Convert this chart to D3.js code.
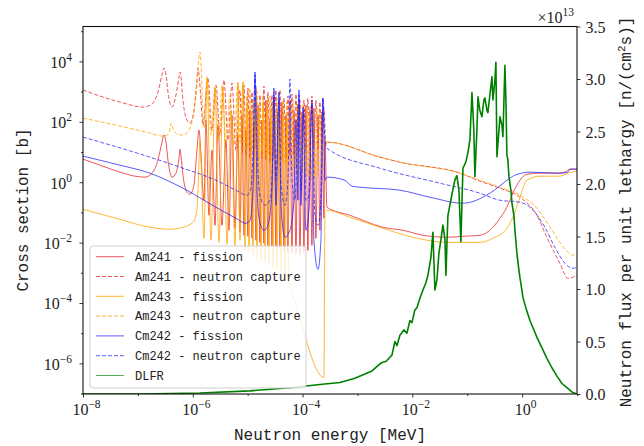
<!DOCTYPE html>
<html>
<head>
<meta charset="utf-8">
<script src="https://cdn.jsdelivr.net/npm/d3@7"></script>
<style>
  body { margin: 0; background: #fff; }
  svg { display: block; }
</style>
</head>
<body>
<svg id="chart" width="644" height="446"></svg>
<script>
// Cross sections [energy MeV, sigma barn]
const am241Fission = [
  [1e-8,5.8],[2.04e-8,3.66],[4.72e-8,2.15],[8.85e-8,1.58],[1.35e-7,1.47],[1.81e-7,1.99],
  [2.32e-7,5.37],[2.75e-7,21.2],[2.98e-7,36.2],[3.25e-7,21.2],[3.53e-7,5.37],[4.18e-7,1.47],
  [4.94e-7,1.99],[5.61e-7,6.25],[5.85e-7,12.4],[6.10e-7,7.28],[6.62e-7,1.71],[7.83e-7,0.466],
  [8.89e-7,0.40],[1.05e-6,0.795],[1.19e-6,11.5],[1.30e-6,53.1],[1.41e-6,7.87],[1.60e-6,0.253],
  [1.74e-6,114],[1.97e-6,0.0804],[2.24e-6,11.5],[2.54e-6,0.0375],[2.88e-6,77.8],[3.40e-6,0.0375],
  [4.03e-6,24.7],[4.56e-6,0.0256],[5.18e-6,167],[5.87e-6,0.0298],[6.65e-6,36.2],[7.24e-6,0.022],
  [7.87e-6,167],[8.57e-6,0.0175],[9.31e-6,53.1],[1.01e-5,0.0162],[1.10e-5,244],[1.20e-5,0.0139],
  [1.30e-5,77.8],[1.42e-5,0.0119],[1.54e-5,358],[1.67e-5,0.0102],[1.82e-5,114],[1.98e-5,0.00948],
  [2.15e-5,525],[2.34e-5,0.00813],[2.55e-5,133],[2.77e-5,0.00754],[3.01e-5,611],[3.27e-5,0.00698],
  [3.56e-5,210],[3.87e-5,0.00647],[4.22e-5,450],[4.58e-5,0.00555],[4.99e-5,167],[5.42e-5,0.00477],
  [5.89e-5,525],[6.41e-5,0.00442],[6.97e-5,244],[7.59e-5,0.00409],[8.24e-5,386],[8.97e-5,0.00379],
  [9.75e-5,210],[1.06e-4,0.00477],[1.15e-4,358],[1.25e-4,0.00555],[1.36e-4,244],[1.48e-4,0.00813],
  [1.61e-4,285],[1.75e-4,0.0139],[1.91e-4,167],[2.07e-4,0.0256],[2.25e-4,210],[2.45e-4,0.064],
  [2.56e-4,24.7],[2.78e-4,0.148],[7.29e-4,0.0804],[2.91e-3,0.0322],
  [6.75e-3,0.0256],[1.56e-2,0.0175],[4.27e-2,0.015],[9.08e-2,0.0163],[0.17,0.0175],[0.294,0.0322],
  [0.394,0.064],[0.528,0.148],[0.679,0.432],[0.912,1.16],[1.22,1.84],[2.11,1.99],[4.88,1.99],
  [6.02,2.15],[7.43,2.7],[10,2.7]
];
const am241Capture = [
  [1e-8,1130],[2.04e-8,712],[4.72e-8,450],[1.24e-7,307],[1.81e-7,386],[2.32e-7,966],[2.75e-7,3540],
  [2.98e-7,6040],[3.25e-7,3540],[3.53e-7,966],[4.18e-7,307],[4.94e-7,769],[5.61e-7,3040],[5.85e-7,4450],
  [6.10e-7,3040],[6.62e-7,525],[7.83e-7,114],[8.89e-7,90.6],[1.05e-6,244],[1.19e-6,2420],[1.24e-6,6040],
  [1.30e-6,3540],[1.41e-6,525],[1.53e-6,77.8],[1.89e-6,2810],[2.24e-6,53.1],[2.65e-6,1650],[3.13e-6,36.2],
  [3.70e-6,2420],[4.38e-6,24.7],[5.18e-6,1920],[6.12e-6,11.5],[7.24e-6,1130],[7.87e-6,9.89],[8.57e-6,1650],
  [9.31e-6,7.87],[1.01e-5,1310],[1.10e-5,6.25],[1.20e-5,966],[1.30e-5,6.75],[1.42e-5,1530],[1.54e-5,5.37],
  [1.67e-5,769],[1.82e-5,6.25],[1.98e-5,1530],[2.15e-5,5.37],[2.34e-5,966],[2.55e-5,4.6],[2.77e-5,769],
  [3.01e-5,6.25],[3.27e-5,1130],[3.56e-5,4.6],[3.87e-5,1130],[4.22e-5,5.37],[4.58e-5,611],[4.99e-5,6.25],
  [5.42e-5,712],[5.89e-5,7.87],[6.41e-5,830],[6.97e-5,7.87],[7.59e-5,830],[8.24e-5,9.89],[8.97e-5,525],
  [9.75e-5,9.89],[1.06e-4,525],[1.15e-4,11.5],[1.25e-4,611],[1.36e-4,11.5],[1.48e-4,712],[1.61e-4,13.4],
  [1.75e-4,525],[1.91e-4,13.4],[2.07e-4,450],[2.25e-4,15.6],[2.45e-4,285],[2.67e-4,18.2],[2.78e-4,21.2],
  [2.57e-3,6.75],[5.94e-3,4.6],[7.36e-2,1.99],[0.17,1.08],[0.394,0.632],[0.912,0.318],[1.86,0.0804],
  [2.83,0.015],[4.88,0.00206],[6.83,0.000655],[10,0.000822]
];
const am243Fission = [
  [1e-8,0.127],[3.99e-8,0.064],[1.66e-7,0.0322],[3.85e-7,0.0276],[6.62e-7,0.0322],[1.01e-6,0.0471],
  [1.19e-6,0.118],[1.30e-6,5.37],[1.35e-6,24.7],[1.41e-6,5.37],[1.60e-6,0.0139],[1.82e-6,2810],
  [2.15e-6,0.0119],[2.54e-6,1310],[3.00e-6,0.0102],[3.55e-6,1310],[4.20e-6,0.00878],[4.97e-6,244],
  [5.87e-6,0.00813],[6.65e-6,1920],[7.24e-6,0.0119],[8.20e-6,2070],[8.93e-6,0.00555],[9.70e-6,358],
  [1.06e-5,0.00477],[1.15e-5,244],[1.25e-5,0.00379],[1.36e-5,525],[1.48e-5,0.00302],[1.61e-5,285],
  [1.75e-5,0.00259],[1.90e-5,386],[2.07e-5,0.00222],[2.25e-5,244],[2.44e-5,0.00177],[2.65e-5,285],
  [2.89e-5,0.00141],[3.14e-5,210],[3.42e-5,0.00121],[3.72e-5,244],[4.05e-5,0.00104],[4.40e-5,167],
  [4.78e-5,0.000655],[5.20e-5,133],[5.65e-5,0.000384],[6.15e-5,0.000262],[2.45e-4,3.4e-7],
  [2.56e-4,0.101],[2.78e-4,0.118],[7.29e-4,0.069],[2.91e-3,0.0298],
  [1.03e-2,0.015],[4.27e-2,0.0102],[0.17,0.0102],[0.294,0.0139],[0.528,0.0298],[0.679,0.069],
  [0.912,0.318],[1.22,1.16],[2.11,1.58],[4.88,1.58],[6.83,1.99],[10,2.32]
];
const am243Capture = [
  [1e-8,133],[4.72e-8,71.9],[1.66e-7,42.2],[2.75e-7,33.6],[3.39e-7,36.2],[3.85e-7,61.8],[4.01e-7,90.6],
  [4.35e-7,61.8],[5.15e-7,39.1],[6.62e-7,36.2],[8.89e-7,61.8],[1.14e-6,659],[1.35e-6,20500],[1.60e-6,61.8],
  [1.82e-6,3280],[2.15e-6,36.2],[2.54e-6,1530],[3.00e-6,24.7],[3.40e-6,1650],[4.03e-6,21.2],[4.76e-6,769],
  [5.62e-6,16.9],[6.65e-6,2070],[7.24e-6,21.2],[8.20e-6,2070],[8.93e-6,11.5],[9.70e-6,769],[1.01e-5,13.4],
  [1.10e-5,1310],[1.20e-5,9.89],[1.25e-5,525],[1.36e-5,11.5],[1.48e-5,966],[1.54e-5,7.87],[1.67e-5,611],
  [1.82e-5,9.89],[1.90e-5,830],[2.07e-5,6.25],[2.25e-5,525],[2.34e-5,7.87],[2.55e-5,712],[2.77e-5,5.37],
  [2.89e-5,450],[3.14e-5,6.25],[3.42e-5,611],[3.56e-5,4.6],[3.87e-5,386],[4.22e-5,5.37],[4.40e-5,525],
  [4.78e-5,3.66],[5.20e-5,450],[5.42e-5,4.6],[5.89e-5,332],[6.41e-5,2.5],[6.68e-5,525],[7.28e-5,2.91],
  [7.91e-5,386],[8.24e-5,1.71],[8.97e-5,332],[9.75e-5,2.15],[1.02e-4,386],[1.11e-4,1.36],[1.20e-4,285],
  [1.25e-4,1.58],[1.36e-4,332],[1.48e-4,1.16],[1.55e-4,244],[1.68e-4,1.36],[1.83e-4,285],[1.91e-4,1.71],
  [2.07e-4,244],[2.25e-4,2.5],[2.35e-4,210],[2.56e-4,15.6],[2.78e-4,21.2],[2.57e-3,6.75],[5.94e-3,4.6],
  [7.36e-2,1.99],[0.17,1.16],[0.394,0.683],[0.912,0.371],[1.86,0.137],[2.83,0.0471],[4.88,0.0102],
  [6.83,0.00477],[10,0.00351]
];
const cm242Fission = [
  [1e-8,7.28],[4.72e-8,3.66],[1.66e-7,1.99],[6.62e-7,0.632],[2.65e-6,0.148],[6.12e-6,0.064],
  [9.31e-6,0.0437],[1.10e-5,0.0549],[1.25e-5,0.543],[1.36e-5,4450],[1.48e-5,0.543],[1.67e-5,0.0471],
  [1.98e-5,0.0256],[2.34e-5,0.0375],[2.77e-5,0.543],[3.01e-5,1310],[3.27e-5,0.173],[3.72e-5,966],
  [4.05e-5,0.173],[4.78e-5,0.015],[5.89e-5,0.0256],[6.97e-5,0.253],[7.59e-5,114],[8.24e-5,0.253],
  [8.59e-5,1130],[9.35e-5,0.173],[1.02e-4,307],[1.15e-4,0.0256],[1.31e-4,0.118],[1.48e-4,417],
  [1.61e-4,0.0119],[1.91e-4,0.0013],[2.16e-4,0.0119],[2.35e-4,611],[2.56e-4,1.16],[2.78e-4,1.47],
  [5.92e-4,1.16],[7.94e-4,0.737],[1.11e-3,0.683],[5.94e-3,0.543],[2.09e-2,0.318],[8.35e-2,0.201],
  [0.259,0.432],[0.6,1.36],[0.74,1.71],[1.39,2.15],[4.88,1.99],[6.83,2.15],[7.43,2.7],[10,2.7]
];
const cm242Capture = [
  [1e-8,31.1],[1.66e-7,6.75],[6.62e-7,2.91],[2.65e-6,1.16],[6.12e-6,0.543],[9.70e-6,0.371],
  [1.15e-5,0.632],[1.25e-5,11.5],[1.36e-5,3540],[1.48e-5,11.5],[1.67e-5,0.371],[2.07e-5,0.173],
  [2.55e-5,0.253],[2.89e-5,11.5],[3.01e-5,769],[3.27e-5,1.16],[3.72e-5,525],[4.05e-5,0.795],
  [4.78e-5,0.173],[5.42e-5,1.16],[5.89e-5,2610],[6.41e-5,1.16],[7.28e-5,0.253],[8.59e-5,769],
  [9.35e-5,0.543],[1.06e-4,244],[1.15e-4,0.253],[1.31e-4,0.371],[1.48e-4,525],[1.68e-4,0.0804],
  [1.91e-4,0.0375],[2.16e-4,0.253],[2.35e-4,611],[2.56e-4,24.7],[2.78e-4,13.4],[2.57e-3,2.91],
  [3.18e-2,0.927],[0.17,0.432],[0.394,0.253],[0.912,0.217],[1.39,0.148],[2.6,0.0322],[3.96,0.00698],
  [6.02,0.00206],[8.41,0.00141],[10,0.00152]
];
// DLFR neutron flux per unit lethargy [energy MeV, flux n/(cm2 s)]
const dlfrFlux = [
  [1e-8,0],[1.09e-7,0],[1.35e-6,0.01e13],[1.10e-5,0.03e13],[5.89e-5,0.06e13],[2.07e-4,0.09e13],
  [4.80e-4,0.11e13],[9.0e-4,0.15e13],[1.37e-3,0.19e13],[1.84e-3,0.22e13],[2.36e-3,0.27e13],
  [2.79e-3,0.30e13],[3.30e-3,0.31e13],[4.25e-3,0.37e13],[4.82e-3,0.50e13],[5.24e-3,0.46e13],
  [5.94e-3,0.56e13],[7.03e-3,0.61e13],[7.98e-3,0.58e13],[9.03e-3,0.70e13],[9.84e-3,0.68e13],
  [1.11e-2,0.80e13],[1.21e-2,0.82e13],[1.37e-2,0.91e13],
  [1.56e-2,0.99e13],[1.77e-2,1.06e13],[1.92e-2,1.13e13],[2.18e-2,1.30e13],[2.37e-2,1.54e13],
  [2.58e-2,0.99e13],[2.81e-2,1.09e13],[3.05e-2,1.34e13],[3.32e-2,1.47e13],[3.61e-2,1.61e13],
  [3.93e-2,1.47e13],[4.09e-2,1.13e13],[4.45e-2,1.70e13],[4.84e-2,1.80e13],[5.26e-2,1.90e13],
  [5.97e-2,2.04e13],[6.49e-2,2.08e13],[7.06e-2,1.94e13],[7.67e-2,1.45e13],[8.35e-2,2.15e13],
  [9.46e-2,2.21e13],[0.103,2.30e13],[0.112,2.42e13],[0.122,2.87e13],[0.132,2.51e13],[0.138,2.07e13],
  [0.150,2.51e13],[0.157,2.83e13],[0.170,2.70e13],[0.185,2.64e13],[0.201,2.80e13],[0.210,2.82e13],
  [0.229,2.70e13],[0.238,2.68e13],[0.259,2.85e13],[0.282,3.02e13],[0.294,2.80e13],[0.320,2.99e13],
  [0.333,3.16e13],[0.348,2.26e13],[0.378,2.51e13],[0.394,2.64e13],[0.429,2.56e13],[0.447,2.45e13],
  [0.486,3.13e13],[0.507,2.80e13],[0.528,2.28e13],[0.551,2.23e13],[0.575,2.07e13],[0.625,1.94e13],
  [0.652,1.82e13],[0.709,1.70e13],[0.740,1.56e13],[0.804,1.34e13],[0.875,1.18e13],[0.912,1.11e13],
  [0.991,0.99e13],[1.035,0.92e13],[1.17,0.82e13],[1.39,0.70e13],[1.64,0.61e13],[1.86,0.54e13],
  [2.30,0.44e13],[2.83,0.34e13],[3.49,0.25e13],[4.31,0.17e13],[5.31,0.10e13],[6.55,0.06e13],
  [8.07,0.02e13],[10,0]
];

const energyTicks = [1e-8, 1e-6, 1e-4, 1e-2, 1];
const energyMinorTicks = [1e-7, 1e-5, 1e-3, 1e-1, 10];
const sigmaTicks = [1e-6, 1e-4, 1e-2, 1, 1e2, 1e4];
const sigmaMinorTicks = [1e-7, 1e-5, 1e-3, 1e-1, 10, 1e3, 1e5];
const fluxTicks = [0, 0.5e13, 1.0e13, 1.5e13, 2.0e13, 2.5e13, 3.0e13, 3.5e13];
const fluxTickLabels = ["0.0", "0.5", "1.0", "1.5", "2.0", "2.5", "3.0", "3.5"];

const series = [
  { name: "Am241 - fission",         data: am241Fission, color: "#e8282a", opacity: 0.78, dash: null },
  { name: "Am241 - neutron capture", data: am241Capture, color: "#e8282a", opacity: 0.78, dash: "4,2" },
  { name: "Am243 - fission",         data: am243Fission, color: "#ffa500", opacity: 0.8,  dash: null },
  { name: "Am243 - neutron capture", data: am243Capture, color: "#ffa500", opacity: 0.8,  dash: "4,2" },
  { name: "Cm242 - fission",         data: cm242Fission, color: "#1a1aff", opacity: 0.72, dash: null },
  { name: "Cm242 - neutron capture", data: cm242Capture, color: "#1a1aff", opacity: 0.72, dash: "4,2" }
];

const L = 83, R = 577, T = 26.5, B = 394;
const serif = "'Liberation Serif', 'DejaVu Serif', serif";
const mono = "'Liberation Mono', 'DejaVu Sans Mono', monospace";

const svg = d3.select("#chart");
const x = d3.scaleLog().domain([1e-8, 10]).range([L, R]);
const y = d3.scaleLog().domain([9.7e-8, 1.43e5]).range([B, T]);
const yFlux = d3.scaleLinear().domain([0, 3.5e13]).range([B, T]);

svg.append("defs").append("clipPath").attr("id", "plotClip")
  .append("rect").attr("x", L).attr("y", T).attr("width", R - L).attr("height", B - T);

const plot = svg.append("g").attr("clip-path", "url(#plotClip)");

const xsLine = d3.line().x(d => x(d[0])).y(d => y(d[1])).curve(d3.curveMonotoneX);
series.forEach(s => {
  plot.append("path")
    .datum(s.data)
    .attr("d", xsLine)
    .attr("fill", "none")
    .attr("stroke", s.color)
    .attr("stroke-opacity", s.opacity)
    .attr("stroke-width", 1)
    .attr("stroke-dasharray", s.dash);
});

const fluxLine = d3.line().x(d => x(d[0])).y(d => yFlux(d[1]));
plot.append("path")
  .datum(dlfrFlux)
  .attr("d", fluxLine)
  .attr("fill", "none")
  .attr("stroke", "#008000")
  .attr("stroke-width", 1.6)
  .attr("stroke-linejoin", "round");

// Axes
function powerLabel(sel, d) {
  const e = Math.round(Math.log10(d));
  sel.text(null);
  sel.append("tspan").text("10");
  sel.append("tspan").attr("dy", -7).attr("font-size", 11.5).text(e < 0 ? "\u2212" + (-e) : String(e));
}

const gx = svg.append("g").attr("transform", `translate(0,${B})`)
  .call(d3.axisBottom(x).tickValues(energyTicks).tickSize(3.5).tickSizeOuter(0).tickPadding(6));
gx.selectAll(".tick text").each(function (d) {
  const t = d3.select(this).attr("dy", null).attr("y", 21).attr("dx", 3);
  powerLabel(t, d);
});
svg.append("g").attr("transform", `translate(0,${B})`)
  .call(d3.axisBottom(x).tickValues(energyMinorTicks).tickSize(2).tickSizeOuter(0).tickFormat(""));

const gy = svg.append("g").attr("transform", `translate(${L},0)`)
  .call(d3.axisLeft(y).tickValues(sigmaTicks).tickSize(3.5).tickSizeOuter(0).tickPadding(6));
gy.selectAll(".tick text").each(function (d) {
  const t = d3.select(this).attr("dy", null).attr("y", 6).attr("x", -11);
  powerLabel(t, d);
});
svg.append("g").attr("transform", `translate(${L},0)`)
  .call(d3.axisLeft(y).tickValues(sigmaMinorTicks).tickSize(2).tickSizeOuter(0).tickFormat(""));

const gr = svg.append("g").attr("transform", `translate(${R},0)`)
  .call(d3.axisRight(yFlux).tickValues(fluxTicks).tickSize(3.5).tickSizeOuter(0).tickPadding(5)
    .tickFormat((d, i) => fluxTickLabels[i]));
gr.selectAll(".tick text").attr("dy", null).attr("y", 5.5);

[gx, gy, gr].forEach(g => {
  g.selectAll(".tick text").attr("font-family", serif).attr("font-size", 16).attr("fill", "#222");
});
svg.selectAll(".domain").remove();
svg.selectAll(".tick line").attr("stroke", "#222").attr("stroke-width", 0.9);

// Frame
svg.append("rect").attr("x", L).attr("y", T).attr("width", R - L).attr("height", B - T)
  .attr("fill", "none").attr("stroke", "#111").attr("stroke-width", 1.1);

// Offset text for the flux axis
const off = svg.append("text").attr("x", 574).attr("y", 23).attr("text-anchor", "end")
  .attr("font-family", serif).attr("font-size", 16).attr("fill", "#222");
off.append("tspan").text("\u00d710");
off.append("tspan").attr("dy", -7).attr("font-size", 11.5).text("13");

// Axis titles
svg.append("text").attr("x", 330).attr("y", 440).attr("text-anchor", "middle")
  .attr("font-family", mono).attr("font-size", 16).attr("fill", "#222")
  .text("Neutron energy [MeV]");
svg.append("text").attr("transform", "translate(28,210) rotate(-90)").attr("text-anchor", "middle")
  .attr("font-family", mono).attr("font-size", 16).attr("fill", "#222")
  .text("Cross section [b]");
const rt = svg.append("text").attr("transform", "translate(631,212) rotate(-90)").attr("text-anchor", "middle")
  .attr("font-family", mono).attr("font-size", 16).attr("fill", "#222");
rt.append("tspan").text("Neutron flux per unit lethargy [n/(cm");
rt.append("tspan").attr("dy", -6).attr("font-size", 11).text("2");
rt.append("tspan").attr("dy", 6).text("s)]");

// Legend
const legendItems = series.map(s => ({ name: s.name, color: s.color, opacity: s.opacity, dash: s.dash }))
  .concat([{ name: "DLFR", color: "#008000", opacity: 0.65, dash: null }]);
const lg = svg.append("g");
lg.append("rect").attr("x", 90).attr("y", 246).attr("width", 216).attr("height", 142).attr("rx", 3)
  .attr("fill", "#fff").attr("fill-opacity", 0.8).attr("stroke", "#cfcfcf").attr("stroke-width", 1);
legendItems.forEach((it, i) => {
  const cy = 256.7 + i * 19.8;
  lg.append("line").attr("x1", 96).attr("x2", 124).attr("y1", cy).attr("y2", cy)
    .attr("stroke", it.color).attr("stroke-opacity", it.opacity).attr("stroke-width", 1)
    .attr("stroke-dasharray", it.dash);
  lg.append("text").attr("x", 135).attr("y", cy + 4.2)
    .attr("font-family", mono).attr("font-size", 12).attr("fill", "#222").text(it.name);
});
</script>
</body>
</html>
